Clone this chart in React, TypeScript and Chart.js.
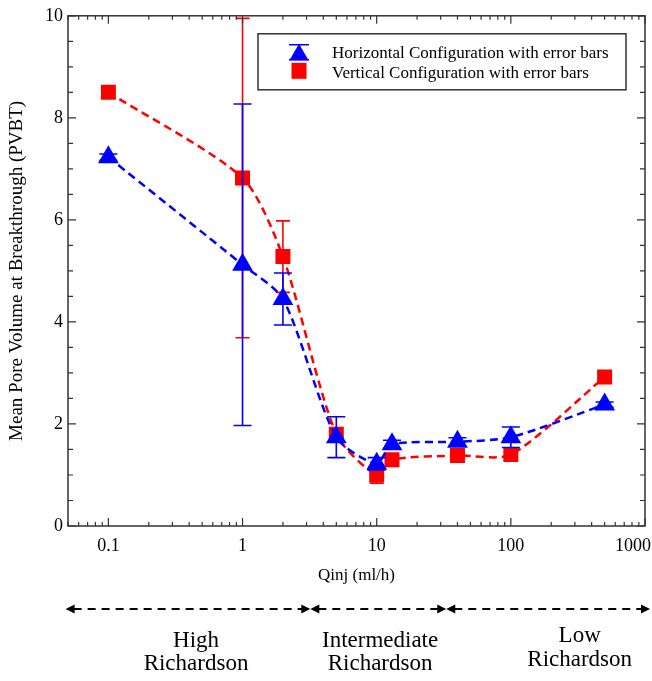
import React, { useEffect, useRef } from 'react';
import { Chart, registerables } from 'chart.js';

Chart.register(...registerables);

const FONT = "'Liberation Serif', 'Times New Roman', serif";

// ---- data ----
const qinj = [0.1, 1, 2, 5, 10, 13, 40, 100, 500];
const horizontalPV = [7.23, 5.12, 4.45, 1.74, 1.22, 1.6, 1.65, 1.74, 2.38];
const horizontalErr = [0.06, 3.15, 0.51, 0.4, 0.12, 0.08, 0.08, 0.2, 0.05];
const verticalPV = [8.5, 6.82, 5.28, 1.8, 1.0, 1.3, 1.38, 1.4, 2.92];
const verticalErr = [0, 3.13, 0.7, 0.12, 0.16, 0.05, 0.05, 0.05, 0];
const seriesLabels = [
  'Horizontal Configuration with error bars',
  'Vertical Configuration with error bars',
];
const xTickLabels = [0.1, 1, 10, 100, 1000];
const yTickStep = 2;
const regimeBounds = [0.048, 3.2, 33, 1090];
const regimeLabelX = [0.45, 10.6, 326];
const regimeLabels = [
  ['High', 'Richardson'],
  ['Intermediate', 'Richardson'],
  ['Low', 'Richardson'],
];
const BLUE = '#0000ff';
const RED = '#ff0000';
const errorArrays = [horizontalErr, verticalErr];
const valueArrays = [horizontalPV, verticalPV];
const errColors = [BLUE, RED];
const capHalf = [9, 7];

const decorPlugin = {
  id: 'decor',
  afterDatasetDraw(chart: any, args: any) {
    const i = args.index;
    const errs = errorArrays[i];
    const vals = valueArrays[i];
    const xs = chart.scales.x;
    const ys = chart.scales.y;
    const ctx = chart.ctx;
    ctx.save();
    ctx.strokeStyle = errColors[i];
    ctx.lineWidth = 1.6;
    ctx.setLineDash([]);
    for (let k = 0; k < qinj.length; k++) {
      const e = errs[k];
      if (!e) continue;
      const x = xs.getPixelForValue(qinj[k]);
      const yt = ys.getPixelForValue(vals[k] + e);
      const yb = ys.getPixelForValue(vals[k] - e);
      ctx.beginPath();
      ctx.moveTo(x, yt);
      ctx.lineTo(x, yb);
      ctx.moveTo(x - capHalf[i], yt);
      ctx.lineTo(x + capHalf[i], yt);
      ctx.moveTo(x - capHalf[i], yb);
      ctx.lineTo(x + capHalf[i], yb);
      ctx.stroke();
    }
    ctx.restore();
  },
  afterDraw(chart: any) {
    const ctx = chart.ctx;
    const ca = chart.chartArea;
    const xs = chart.scales.x;
    const ys = chart.scales.y;
    ctx.save();
    ctx.setLineDash([]);
    // frame
    ctx.strokeStyle = '#333';
    ctx.lineWidth = 1.5;
    ctx.strokeRect(ca.left, ca.top, ca.right - ca.left, ca.bottom - ca.top);
    // x ticks (inward, bottom and top)
    ctx.lineWidth = 1.2;
    ctx.beginPath();
    for (let d = -2; d <= 3; d++) {
      for (let m = 1; m <= 9; m++) {
        const v = m * Math.pow(10, d);
        if (v < xs.min * 0.999 || v > xs.max * 1.001) continue;
        const px = xs.getPixelForValue(v);
        const len = m === 1 ? 8 : 4;
        ctx.moveTo(px, ca.bottom);
        ctx.lineTo(px, ca.bottom - len);
        ctx.moveTo(px, ca.top);
        ctx.lineTo(px, ca.top + len);
      }
    }
    // y ticks (inward, left and right)
    for (let v = 0; v <= 10; v += 0.5) {
      const py = ys.getPixelForValue(v);
      const len = v % 2 === 0 ? 8 : 5;
      ctx.moveTo(ca.left, py);
      ctx.lineTo(ca.left + len, py);
      ctx.moveTo(ca.right, py);
      ctx.lineTo(ca.right - len, py);
    }
    ctx.stroke();
    // x tick labels
    ctx.fillStyle = '#000';
    ctx.font = `18px ${FONT}`;
    ctx.textAlign = 'center';
    ctx.textBaseline = 'alphabetic';
    for (const v of xTickLabels) {
      const s = String(v);
      const w = ctx.measureText(s).width;
      let px = xs.getPixelForValue(v);
      px = Math.min(px, chart.width - 1 - w / 2);
      ctx.fillText(s, px, ca.bottom + 25);
    }
    // legend
    const lx = ca.left + 190;
    const ly = ca.top + 18;
    const lw = 368;
    const lh = 56;
    ctx.fillStyle = '#fff';
    ctx.fillRect(lx, ly, lw, lh);
    ctx.strokeStyle = '#333';
    ctx.lineWidth = 1.5;
    ctx.strokeRect(lx, ly, lw, lh);
    const mx = lx + 41;
    // triangle
    const r = 11;
    const cy = ly + 21;
    ctx.fillStyle = BLUE;
    ctx.beginPath();
    ctx.moveTo(mx, cy - r);
    ctx.lineTo(mx + r * Math.sin((2 * Math.PI) / 3), cy - r * Math.cos((2 * Math.PI) / 3));
    ctx.lineTo(mx + r * Math.sin((4 * Math.PI) / 3), cy - r * Math.cos((4 * Math.PI) / 3));
    ctx.closePath();
    ctx.fill();
    ctx.strokeStyle = BLUE;
    ctx.lineWidth = 1.6;
    ctx.beginPath();
    ctx.moveTo(mx - 10, ly + 11);
    ctx.lineTo(mx + 10, ly + 11);
    ctx.moveTo(mx, ly + 11);
    ctx.lineTo(mx, ly + 27);
    ctx.moveTo(mx - 10, ly + 26);
    ctx.lineTo(mx + 10, ly + 26);
    ctx.stroke();
    // square
    ctx.fillStyle = RED;
    ctx.fillRect(mx - 7.5, ly + 29, 15, 16);
    // legend text
    ctx.fillStyle = '#000';
    ctx.font = `17px ${FONT}`;
    ctx.textAlign = 'left';
    ctx.textBaseline = 'middle';
    ctx.fillText(chart.data.datasets[0].label, lx + 74, ly + 20);
    ctx.fillText(chart.data.datasets[1].label, lx + 74, ly + 40);
    // regime arrows
    const ay = 609;
    ctx.strokeStyle = '#000';
    ctx.fillStyle = '#000';
    ctx.lineWidth = 2;
    for (let k = 0; k < regimeBounds.length - 1; k++) {
      const a = xs.getPixelForValue(regimeBounds[k]);
      const b = xs.getPixelForValue(regimeBounds[k + 1]);
      ctx.setLineDash([8, 6]);
      ctx.beginPath();
      ctx.moveTo(a + 8, ay);
      ctx.lineTo(b - 8, ay);
      ctx.stroke();
      ctx.setLineDash([]);
      ctx.beginPath();
      ctx.moveTo(a, ay);
      ctx.lineTo(a + 9, ay - 4.5);
      ctx.lineTo(a + 9, ay + 4.5);
      ctx.closePath();
      ctx.moveTo(b, ay);
      ctx.lineTo(b - 9, ay - 4.5);
      ctx.lineTo(b - 9, ay + 4.5);
      ctx.closePath();
      ctx.fill();
    }
    // regime labels
    ctx.font = `23px ${FONT}`;
    ctx.textAlign = 'center';
    ctx.textBaseline = 'middle';
    const rowY = [
      [641, 664],
      [641, 664],
      [636, 660],
    ];
    for (let k = 0; k < regimeLabels.length; k++) {
      const px = xs.getPixelForValue(regimeLabelX[k]);
      ctx.fillText(regimeLabels[k][0], px, rowY[k][0]);
      ctx.fillText(regimeLabels[k][1], px, rowY[k][1]);
    }
    ctx.restore();
  },
};

export default function App() {
  const ref = useRef<HTMLCanvasElement>(null);
  useEffect(() => {
    const chart = new Chart(ref.current as HTMLCanvasElement, {
      type: 'line',
      data: {
        labels: qinj,
        datasets: [
          {
            label: seriesLabels[0],
            data: qinj.map((x, i) => ({ x, y: horizontalPV[i] })),
            borderColor: BLUE,
            backgroundColor: BLUE,
            borderWidth: 2.5,
            borderDash: [8, 5],
            tension: 0.25,
            pointStyle: 'triangle',
            pointRadius: 12,
            pointBorderWidth: 0,
            pointBackgroundColor: BLUE,
            pointBorderColor: BLUE,
            fill: false,
          },
          {
            label: seriesLabels[1],
            data: qinj.map((x, i) => ({ x, y: verticalPV[i] })),
            borderColor: RED,
            backgroundColor: RED,
            borderWidth: 2.5,
            borderDash: [8, 5],
            tension: 0.25,
            pointStyle: 'rect',
            pointRadius: 10.6,
            pointBorderWidth: 0,
            pointBackgroundColor: RED,
            pointBorderColor: RED,
            fill: false,
          },
        ],
      } as any,
      options: {
        responsive: false,
        animation: false,
        layout: { autoPadding: false, padding: { left: 0, top: 15, right: 7, bottom: 95 } },
        plugins: { legend: { display: false }, tooltip: { enabled: false } },
        scales: {
          x: {
            type: 'logarithmic',
            min: 0.05,
            max: 1000,
            grid: { display: false, drawTicks: false },
            border: { display: false },
            ticks: { display: false },
            title: {
              display: true,
              text: 'Qinj (ml/h)',
              color: '#000',
              font: { family: FONT, size: 17 },
              padding: { top: 0, bottom: 0 },
            },
            afterFit: (s: any) => {
              s.height = 60;
              s.paddingLeft = 0;
              s.paddingRight = 0;
            },
          },
          y: {
            min: 0,
            max: 10,
            grid: { display: false, drawTicks: false },
            border: { display: false },
            ticks: {
              stepSize: yTickStep,
              color: '#000',
              padding: 5,
              font: { family: FONT, size: 18 },
            },
            title: {
              display: true,
              text: 'Mean Pore Volume at Breakthrough (PVBT)',
              color: '#000',
              font: { family: FONT, size: 19 },
              padding: { top: 6, bottom: 0 },
            },
            afterFit: (s: any) => {
              s.width = 68;
            },
          },
        },
      } as any,
      plugins: [decorPlugin],
    });
    return () => chart.destroy();
  }, []);
  return (
    <div style={{ position: 'fixed', left: 0, top: 0, width: 652, height: 681, background: '#fff' }}>
      <canvas ref={ref} width={652} height={681} style={{ display: 'block' }} />
    </div>
  );
}
